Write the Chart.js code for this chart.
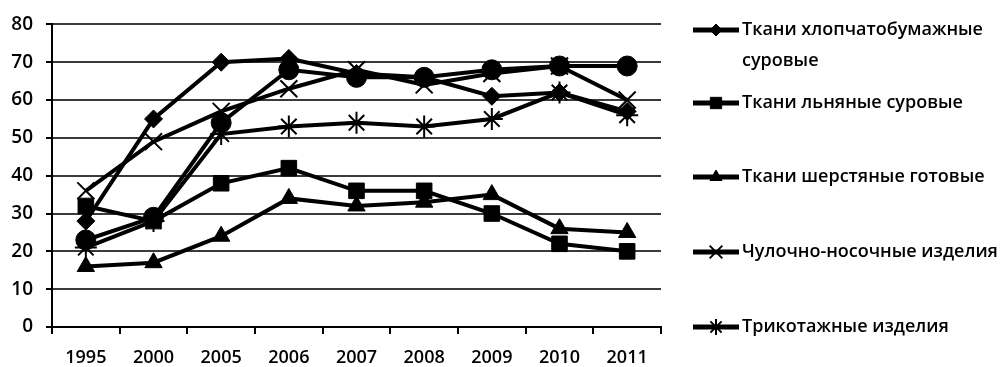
<!DOCTYPE html>
<html>
<head>
<meta charset="utf-8">
<script src="https://cdn.jsdelivr.net/npm/chart.js@4.4.1/dist/chart.umd.min.js"></script>
<style>
  html, body { margin: 0; padding: 0; background: #ffffff; }
  #wrap { width: 1007px; height: 367px; position: relative; }
</style>
</head>
<body>
<div id="wrap"><canvas id="c" width="1007" height="367"></canvas></div>
<script>
// Years on the horizontal axis
const years = ['1995', '2000', '2005', '2006', '2007', '2008', '2009', '2010', '2011'];

// Series values
const cotton   = [28, 55, 70, 71, 67, 66, 61, 62, 57];
const linen    = [32, 28, 38, 42, 36, 36, 30, 22, 20];
const wool     = [16, 17, 24, 34, 32, 33, 35, 26, 25];
const hosiery  = [36, 49, 57, 63, 68, 64, 67, 69, 60];
const knitwear = [21, 28, 51, 53, 54, 53, 55, 62, 56];
const sixth    = [23, 29, 54, 68, 66, 66, 68, 69, 69];

// Series names (legend text, split into lines)
const seriesNames = [
  ['Ткани хлопчатобумажные', 'суровые'],
  ['Ткани льняные суровые'],
  ['Ткани шерстяные готовые'],
  ['Чулочно-носочные изделия'],
  ['Трикотажные изделия']
];

// Value axis ticks
const yMin = 0, yMax = 80, yStep = 10;

const FONT = '"Open Sans", "DejaVu Sans", sans-serif';

function series(label, data, style, radius, bw) {
  return {
    label: label,
    data: data,
    borderColor: '#000',
    backgroundColor: '#000',
    borderWidth: 4,
    tension: 0,
    pointStyle: style,
    pointRadius: radius,
    pointHoverRadius: radius,
    pointBackgroundColor: '#000',
    pointBorderColor: '#000',
    pointBorderWidth: bw,
    legendRadius: Math.round(radius * 0.72),
    legendBorderWidth: bw
  };
}

const datasets = [
  series(seriesNames[0].join(' '), cotton, 'rectRot', 9, 1),
  series(seriesNames[1].join(' '), linen, 'rect', 11, 1),
  series(seriesNames[2].join(' '), wool, 'triangle', 10, 1),
  series(seriesNames[3].join(' '), hosiery, 'crossRot', 12, 2),
  series(seriesNames[4].join(' '), knitwear, 'star', 11, 2),
  series('', sixth, 'circle', 10, 1)
];

// Side legend: short line with marker, text to the right
const sideLegend = {
  id: 'sideLegend',
  afterDraw(chart) {
    const ctx = chart.ctx;
    const rows = [30, 103, 177, 252, 327];
    ctx.save();
    seriesNames.forEach((lines, i) => {
      const ds = chart.data.datasets[i];
      const y = rows[i];
      ctx.strokeStyle = '#000';
      ctx.lineWidth = 5;
      ctx.beginPath();
      ctx.moveTo(693, y);
      ctx.lineTo(739, y);
      ctx.stroke();
      ctx.fillStyle = '#000';
      ctx.strokeStyle = '#000';
      ctx.lineWidth = ds.legendBorderWidth;
      Chart.helpers.drawPoint(ctx, {
        pointStyle: ds.pointStyle,
        radius: ds.legendRadius,
        borderWidth: ds.legendBorderWidth,
        rotation: 0
      }, 716, y);
      ctx.fillStyle = '#000';
      ctx.font = '600 18px ' + FONT;
      ctx.textBaseline = 'middle';
      ctx.textAlign = 'left';
      lines.forEach((t, k) => ctx.fillText(t, 742, y + k * 31));
    });
    ctx.restore();
  }
};

new Chart(document.getElementById('c'), {
  type: 'line',
  data: { labels: years, datasets: datasets },
  options: {
    responsive: false,
    animation: false,
    devicePixelRatio: 1,
    layout: { padding: { top: 23, right: 346, bottom: 0, left: 0 } },
    plugins: { legend: { display: false }, tooltip: { enabled: false } },
    scales: {
      x: {
        offset: true,
        grid: {
          offset: true,
          drawOnChartArea: false,
          drawTicks: true,
          tickLength: 7,
          tickColor: '#000',
          lineWidth: 2
        },
        border: { color: '#000', width: 2 },
        ticks: {
          color: '#000',
          padding: 13,
          font: { family: FONT, size: 18, weight: '600' },
          maxRotation: 0
        },
        afterFit(s) { s.height = 40; }
      },
      y: {
        min: yMin,
        max: yMax,
        ticks: {
          stepSize: yStep,
          color: '#000',
          padding: 13,
          font: { family: FONT, size: 19, weight: '600' }
        },
        grid: {
          color: '#3a3a3a',
          lineWidth: 2,
          tickLength: 6,
          tickColor: '#000'
        },
        border: { color: '#000', width: 2 },
        afterFit(s) { s.width = 52; }
      }
    }
  },
  plugins: [sideLegend]
});
</script>
</body>
</html>
